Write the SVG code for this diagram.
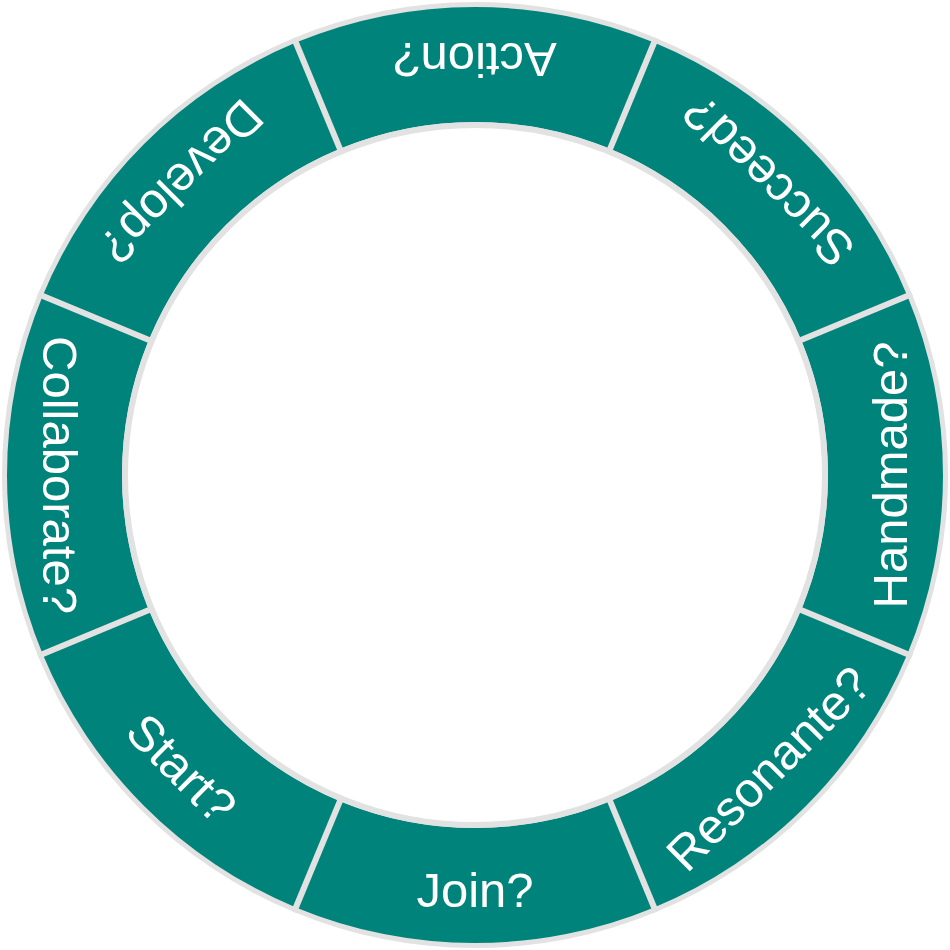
<svg xmlns="http://www.w3.org/2000/svg" width="950" height="950" viewBox="0 0 950 950">
<style>
.seg{fill:#00837b}
.sep{stroke:#e2e2e2;stroke-width:6}
.lbl{font-family:"Liberation Sans","DejaVu Sans",sans-serif;font-size:49px;fill:#ffffff;text-anchor:middle}
</style>
<rect width="950" height="950" fill="#ffffff"/>
<circle cx="475" cy="475" r="473" fill="#e2e2e2"/>
<g id="handmade">
<path class="seg" d="M907.38,295.91 A468,468 0 0 1 907.38,654.09 L801.13,610.09 A353,353 0 0 0 801.13,339.91 Z"/>
<text class="lbl" transform="translate(475 475) rotate(-90)" x="0" y="432">Handmade?</text>
</g>
<g id="resonante">
<path class="seg" d="M907.38,654.09 A468,468 0 0 1 654.09,907.38 L610.09,801.13 A353,353 0 0 0 801.13,610.09 Z"/>
<text class="lbl" transform="translate(475 475) rotate(-45)" x="0" y="432">Resonante?</text>
</g>
<g id="join">
<path class="seg" d="M654.09,907.38 A468,468 0 0 1 295.91,907.38 L339.91,801.13 A353,353 0 0 0 610.09,801.13 Z"/>
<text class="lbl" transform="translate(475 475) rotate(0)" x="0" y="432">Join?</text>
</g>
<g id="start">
<path class="seg" d="M295.91,907.38 A468,468 0 0 1 42.62,654.09 L148.87,610.09 A353,353 0 0 0 339.91,801.13 Z"/>
<text class="lbl" transform="translate(475 475) rotate(45)" x="0" y="432">Start?</text>
</g>
<g id="collaborate">
<path class="seg" d="M42.62,654.09 A468,468 0 0 1 42.62,295.91 L148.87,339.91 A353,353 0 0 0 148.87,610.09 Z"/>
<text class="lbl" transform="translate(475 475) rotate(90)" x="0" y="432">Collaborate?</text>
</g>
<g id="develop">
<path class="seg" d="M42.62,295.91 A468,468 0 0 1 295.91,42.62 L339.91,148.87 A353,353 0 0 0 148.87,339.91 Z"/>
<text class="lbl" transform="translate(475 475) rotate(135)" x="0" y="432">Develop?</text>
</g>
<g id="action">
<path class="seg" d="M295.91,42.62 A468,468 0 0 1 654.09,42.62 L610.09,148.87 A353,353 0 0 0 339.91,148.87 Z"/>
<text class="lbl" transform="translate(475 475) rotate(180)" x="0" y="432">Action?</text>
</g>
<g id="succeed">
<path class="seg" d="M654.09,42.62 A468,468 0 0 1 907.38,295.91 L801.13,339.91 A353,353 0 0 0 610.09,148.87 Z"/>
<text class="lbl" transform="translate(475 475) rotate(225)" x="0" y="432">Succeed?</text>
</g>
<g id="connectors" transform="translate(475 475)">
<line class="sep" x1="347" y1="0" x2="473" y2="0" transform="rotate(22.5)"/>
<line class="sep" x1="347" y1="0" x2="473" y2="0" transform="rotate(67.5)"/>
<line class="sep" x1="347" y1="0" x2="473" y2="0" transform="rotate(112.5)"/>
<line class="sep" x1="347" y1="0" x2="473" y2="0" transform="rotate(157.5)"/>
<line class="sep" x1="347" y1="0" x2="473" y2="0" transform="rotate(202.5)"/>
<line class="sep" x1="347" y1="0" x2="473" y2="0" transform="rotate(247.5)"/>
<line class="sep" x1="347" y1="0" x2="473" y2="0" transform="rotate(292.5)"/>
<line class="sep" x1="347" y1="0" x2="473" y2="0" transform="rotate(337.5)"/>
</g>
<circle cx="475" cy="475" r="350" fill="#ffffff" stroke="#e2e2e2" stroke-width="6"/>
</svg>
